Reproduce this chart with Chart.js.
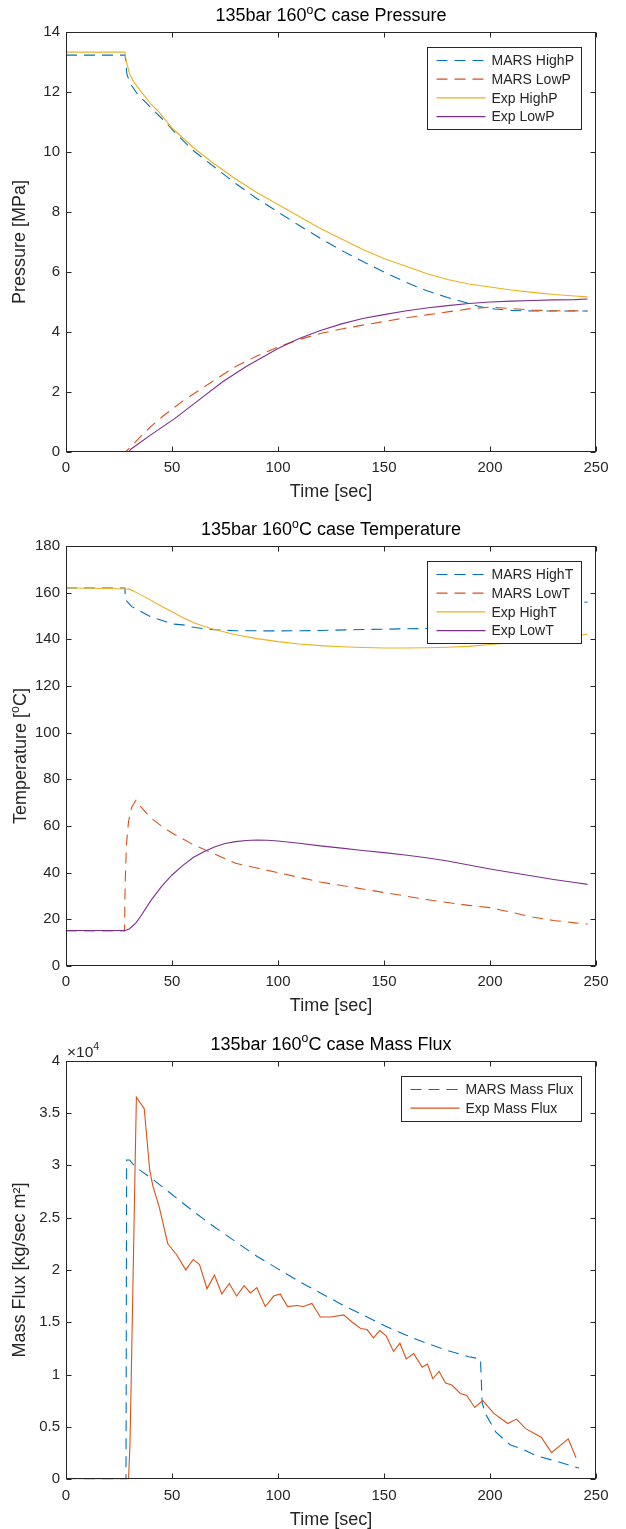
<!DOCTYPE html>
<html><head><meta charset="utf-8">
<script src="https://cdn.jsdelivr.net/npm/chart.js@4.4.1/dist/chart.umd.min.js"></script>
<style>
html,body{margin:0;padding:0;background:#fff;width:626px;height:1529px;overflow:hidden;position:relative;}
canvas{position:absolute;left:0;}
</style></head><body>
<canvas id="c1" width="626" height="512" style="top:0px"></canvas>
<canvas id="c2" width="626" height="512" style="top:514px"></canvas>
<canvas id="c3" width="626" height="501" style="top:1028px"></canvas>
<script>
// ---------------- DATA ----------------
const timeTicks = [0, 50, 100, 150, 200, 250];

// Pressure [MPa]
const tMarsHighP = [0, 27.9, 28.7, 30.3, 34, 38, 42, 47.6, 50, 60, 70, 80, 90, 100, 110, 120, 130, 140, 150, 160, 170, 180, 190, 195, 200, 210, 220, 230, 240, 246];
const marsHighP  = [13.23, 13.23, 12.6, 12.28, 11.9, 11.63, 11.34, 10.95, 10.75, 10.05, 9.5, 8.95, 8.45, 8.0, 7.55, 7.12, 6.72, 6.35, 6.0, 5.67, 5.38, 5.15, 4.95, 4.85, 4.78, 4.72, 4.7, 4.7, 4.7, 4.7];
const tMarsLowP  = [0, 28, 30.7, 36.6, 41.3, 45.8, 55.5, 68, 80, 90, 100, 110, 120, 130, 140, 150, 160, 170, 180, 190, 200, 210, 220, 230, 246];
const marsLowP   = [0, 0, 0.18, 0.62, 0.93, 1.2, 1.72, 2.3, 2.85, 3.2, 3.5, 3.75, 3.95, 4.1, 4.23, 4.35, 4.47, 4.57, 4.67, 4.77, 4.83, 4.78, 4.73, 4.71, 4.7];
const tExpHighP  = [0, 27.8, 28.5, 30, 32, 36, 40, 43, 50, 60, 70, 80, 90, 100, 110, 120, 130, 140, 150, 160, 170, 180, 190, 200, 210, 220, 230, 240, 246];
const expHighP   = [13.33, 13.33, 13.0, 12.6, 12.33, 11.96, 11.6, 11.4, 10.8, 10.15, 9.6, 9.1, 8.65, 8.25, 7.85, 7.45, 7.1, 6.75, 6.45, 6.2, 5.95, 5.75, 5.6, 5.5, 5.4, 5.32, 5.25, 5.2, 5.17];
const tExpLowP   = [0, 29.5, 30.7, 40, 51.4, 62.6, 73.9, 85, 100, 110, 120, 130, 140, 150, 160, 170, 180, 190, 200, 210, 220, 230, 240, 246];
const expLowP    = [0, 0, 0.1, 0.57, 1.12, 1.73, 2.34, 2.85, 3.45, 3.78, 4.05, 4.27, 4.45, 4.58, 4.7, 4.8, 4.88, 4.95, 5.0, 5.03, 5.05, 5.07, 5.08, 5.1];

// Temperature [oC]
const tMarsHighT = [0, 27.8, 28, 31, 36.4, 40.3, 45.8, 49.7, 55.2, 59.2, 65, 70, 80, 100, 120, 140, 160, 180, 190, 200, 210, 220, 230, 240, 246];
const marsHighT  = [162, 162, 157, 154, 151.4, 149.5, 148, 146.6, 146.2, 145.3, 144.6, 144.1, 143.7, 143.6, 143.8, 144.2, 144.5, 144.8, 145, 146, 148, 150.5, 153, 155.5, 156];
const tMarsLowT  = [0, 27.6, 27.9, 28.5, 29.5, 31, 33, 35, 40, 45, 50, 60, 70, 80, 90, 100, 110, 120, 130, 140, 150, 160, 170, 180, 190, 200, 210, 220, 230, 240, 246];
const marsLowT   = [15, 15, 35, 52, 62, 68, 71, 68.5, 63.5, 60, 57, 52, 48, 44, 42, 40, 38, 36, 34.5, 33, 31.5, 30, 28.5, 27.2, 26, 25, 23, 21, 19.5, 18.5, 18];
const tExpHighT  = [0, 20, 28, 30, 34, 40, 45, 50, 55, 60, 65, 70, 80, 90, 100, 110, 120, 130, 140, 150, 160, 170, 180, 190, 200, 210, 220, 230, 240, 246];
const expHighT   = [162, 161.8, 161.6, 161.5, 159.7, 156.8, 154.2, 151.8, 149.4, 147.2, 145.6, 144.2, 142, 140.3, 139, 138, 137.3, 136.8, 136.5, 136.3, 136.3, 136.4, 136.6, 137, 137.8, 138.6, 139.5, 140.4, 141.4, 142.2];
const tExpLowT   = [0, 28, 30, 33, 35, 40, 45, 50, 55, 60, 65, 70, 75, 80, 85, 90, 95, 100, 110, 120, 130, 140, 150, 160, 170, 180, 190, 200, 210, 220, 230, 240, 246];
const expLowT    = [15.2, 15.2, 16, 18.5, 21, 28, 34, 39, 43, 46.5, 49, 51, 52.5, 53.3, 53.8, 54, 53.9, 53.6, 52.6, 51.5, 50.5, 49.5, 48.6, 47.6, 46.4, 45, 43.3, 41.6, 40.1, 38.6, 37.1, 35.8, 35];

// Mass flux [kg/sec m2]
const tMarsFlux = [0, 28.3, 28.6, 30, 32, 35, 40, 45, 50, 60, 70, 80, 90, 100, 110, 120, 130, 140, 150, 160, 170, 180, 190, 195.5, 196.3, 198, 202.8, 209.4, 215, 222.5, 231.9, 241.2, 242];
const marsFlux  = [0, 0, 30500, 30500, 30000, 29500, 28800, 28000, 27200, 25600, 24100, 22700, 21300, 20100, 18900, 17800, 16700, 15700, 14700, 13800, 13000, 12300, 11700, 11500, 7300, 6200, 4500, 3300, 2900, 2200, 1700, 1100, 1100];
const tExpFlux  = [5.5, 29.5, 30.2, 30.8, 32.6, 33.2, 36.9, 39.5, 41, 44, 48, 52, 56.5, 60, 63, 66.5, 70, 73.5, 77, 80.5, 84, 87, 90, 94, 98, 101, 104.5, 109, 112, 116, 120, 125, 131, 135, 139, 142, 145, 148, 151, 154.5, 157.5, 160.5, 164, 168, 170.5, 173, 176, 179, 182, 186, 189, 192.8, 196.6, 201.8, 208.4, 212.5, 216.8, 224.3, 229, 236.9, 240.6];
const expFlux   = [0, 0, 3500, 10000, 30000, 36500, 35400, 29500, 28000, 26000, 22500, 21500, 20000, 21000, 20500, 18200, 19500, 17700, 18700, 17500, 18500, 17800, 18300, 16500, 17500, 17700, 16500, 16600, 16500, 16800, 15500, 15500, 15700, 15000, 14400, 14300, 13500, 14200, 13700, 12200, 13000, 11500, 12000, 10700, 11000, 9600, 10300, 9200, 9000, 8200, 8000, 6860, 7520, 6300, 5330, 5750, 4840, 4000, 2550, 3860, 2060];

// ---------------- STYLE ----------------
const FONT = '"Liberation Sans", Arial, Helvetica, sans-serif';
const AXC = '#262626';
const C_BLUE = '#0072BD', C_ORANGE = '#D95319', C_YELLOW = '#EDB120', C_PURPLE = '#7E2F8E';
const DASH = [11, 7];

function pts(t, v){ return t.map((x, i) => ({x: x, y: v[i]})); }

function drawRich(ctx, parts, x, y, size, color, rotate, align){
  ctx.save();
  ctx.translate(x, y);
  if (rotate) ctx.rotate(-Math.PI / 2);
  ctx.fillStyle = color;
  ctx.textBaseline = 'alphabetic';
  ctx.textAlign = 'left';
  let total = 0;
  const widths = parts.map(p => {
    ctx.font = (p.sup ? size * 0.68 : size) + 'px ' + FONT;
    const w = ctx.measureText(p.t).width; total += w; return w;
  });
  let cx = align === 'left' ? 0 : -total / 2;
  parts.forEach((p, i) => {
    ctx.font = (p.sup ? size * 0.68 : size) + 'px ' + FONT;
    ctx.fillText(p.t, cx, p.sup ? -size * 0.08 : size * 0.36);
    cx += widths[i];
  });
  ctx.restore();
}

const matlabPlugin = {
  id: 'matlab',
  afterDraw(chart, args, o) {
    const {ctx, chartArea: a, scales} = chart;
    ctx.save();
    const L = Math.round(a.left) + 0.5, R = Math.round(a.right) - 0.5, T = Math.round(a.top) + 0.5, B = Math.round(a.bottom) - 0.5;
    ctx.strokeStyle = AXC; ctx.lineWidth = 1; ctx.setLineDash([]);
    const tl = 5;
    ctx.beginPath();
    scales.x.ticks.forEach(tk => {
      const px = Math.round(scales.x.getPixelForValue(tk.value)) + 0.5;
      ctx.moveTo(px, B); ctx.lineTo(px, B - tl); ctx.moveTo(px, T); ctx.lineTo(px, T + tl);
    });
    scales.y.ticks.forEach(tk => {
      const py = Math.round(scales.y.getPixelForValue(tk.value)) + 0.5;
      ctx.moveTo(L, py); ctx.lineTo(L + tl, py); ctx.moveTo(R, py); ctx.lineTo(R - tl, py);
    });
    ctx.stroke();
    ctx.strokeRect(L, T, R - L, B - T);

    // title
    drawRich(ctx, o.title, (a.left + a.right) / 2, a.top - 17, 18, '#000');
    // y title (rich)
    if (o.yTitle) drawRich(ctx, o.yTitle, 20, (a.top + a.bottom) / 2, 18, AXC, true);
    // exponent label
    if (o.exponent) {
      drawRich(ctx, [{t: '\u00d710'}, {t: o.exponent, sup: true}], a.left + 1, a.top - 9, 15.5, AXC, false, 'left');
    }
    // legend
    const ds = chart.data.datasets;
    ctx.font = '14px ' + FONT;
    let tw = 0; ds.forEach(d => { tw = Math.max(tw, ctx.measureText(d.label).width); });
    const padL = 9, lineLen = 49, gap = 6, padR = 8, rowH = 18.7, padV = 13;
    const w = padL + lineLen + gap + tw + padR;
    const h = padV * 2 + (ds.length - 1) * rowH;
    const bx = Math.round(a.right - 15 - w) + 0.5, by = Math.round(a.top + 15) + 0.5;
    ctx.fillStyle = '#fff';
    ctx.fillRect(bx, by, w, h);
    ctx.strokeStyle = AXC; ctx.lineWidth = 1;
    ctx.strokeRect(bx, by, Math.round(w), Math.round(h));
    ds.forEach((d, i) => {
      const yy = by + padV + i * rowH;
      ctx.save();
      ctx.strokeStyle = d.borderColor; ctx.lineWidth = 1.2;
      ctx.setLineDash(d.borderDash || []);
      ctx.beginPath(); ctx.moveTo(bx + padL, yy); ctx.lineTo(bx + padL + lineLen, yy); ctx.stroke();
      ctx.restore();
      ctx.fillStyle = AXC; ctx.textBaseline = 'middle'; ctx.textAlign = 'left';
      ctx.font = '14px ' + FONT;
      ctx.fillText(d.label, bx + padL + lineLen + gap, yy + 1);
    });
    ctx.restore();
  }
};

function ds(label, t, v, color, dashed, order){
  return {label, data: pts(t, v), borderColor: color, backgroundColor: color, borderWidth: 1.1,
          borderDash: dashed ? DASH : [], pointRadius: 0, tension: 0, fill: false, order};
}

function makeChart(id, datasets, o){
  const canvas = document.getElementById(id);
  const H = canvas.height;
  return new Chart(canvas, {
    type: 'line',
    data: {datasets},
    plugins: [matlabPlugin],
    options: {
      responsive: false, animation: false, devicePixelRatio: 1,
      layout: {padding: {top: o.padTop, right: 30, bottom: 0, left: 0}},
      plugins: {legend: {display: false}, title: {display: false}, tooltip: {enabled: false}, matlab: o},
      scales: {
        x: {
          type: 'linear', min: 0, max: 250,
          afterBuildTicks: s => { s.ticks = timeTicks.map(v => ({value: v})); },
          ticks: {color: AXC, font: {family: FONT, size: 15}, padding: o.xTickPad, maxRotation: 0, autoSkip: false},
          grid: {display: false, drawTicks: false}, border: {display: false},
          title: {display: true, text: 'Time [sec]', color: AXC, font: {family: FONT, size: 18, lineHeight: o.xTitleLH}, padding: {top: 0, bottom: o.xTitlePad}},
          afterFit: s => { s.height = H - o.areaBottom; }
        },
        y: {
          type: 'linear', min: o.yMin, max: o.yMax,
          afterBuildTicks: s => { s.ticks = o.yTicks.map(v => ({value: v})); },
          ticks: {color: AXC, font: {family: FONT, size: 15}, padding: 6, autoSkip: false,
                  callback: o.yFmt || (v => String(v))},
          grid: {display: false, drawTicks: false}, border: {display: false},
          title: {display: !!o.yText, text: o.yText || '', color: AXC, font: {family: FONT, size: 18, lineHeight: 1.2}, padding: {top: 9, bottom: 0}},
          afterFit: s => { s.width = 66; }
        }
      }
    }
  });
}

const pressTicks = [0, 2, 4, 6, 8, 10, 12, 14];
const tempTicks = [0, 20, 40, 60, 80, 100, 120, 140, 160, 180];
const fluxTicks = [0, 5000, 10000, 15000, 20000, 25000, 30000, 35000, 40000];

makeChart('c1', [
  ds('MARS HighP', tMarsHighP, marsHighP, C_BLUE, true, 4),
  ds('MARS LowP', tMarsLowP, marsLowP, C_ORANGE, true, 3),
  ds('Exp HighP', tExpHighP, expHighP, C_YELLOW, false, 2),
  ds('Exp LowP', tExpLowP, expLowP, C_PURPLE, false, 1)
], {padTop: 32, areaBottom: 452, xTickPad: 6.5, xTitlePad: 9.5, xTitleLH: 1.2,
    yMin: 0, yMax: 14, yTicks: pressTicks, yText: 'Pressure [MPa]',
    title: [{t: '135bar 160'}, {t: 'o', sup: true}, {t: 'C case Pressure'}]});

makeChart('c2', [
  ds('MARS HighT', tMarsHighT, marsHighT, C_BLUE, true, 4),
  ds('MARS LowT', tMarsLowT, marsLowT, C_ORANGE, true, 3),
  ds('Exp HighT', tExpHighT, expHighT, C_YELLOW, false, 2),
  ds('Exp LowT', tExpLowT, expLowT, C_PURPLE, false, 1)
], {padTop: 32, areaBottom: 452, xTickPad: 6.5, xTitlePad: 9.5, xTitleLH: 1.2,
    yMin: 0, yMax: 180, yTicks: tempTicks,
    yTitle: [{t: 'Temperature ['}, {t: 'o', sup: true}, {t: 'C]'}],
    title: [{t: '135bar 160'}, {t: 'o', sup: true}, {t: 'C case Temperature'}]});

makeChart('c3', [
  ds('MARS Mass Flux', tMarsFlux, marsFlux, C_BLUE, true, 2),
  ds('Exp Mass Flux', tExpFlux, expFlux, C_ORANGE, false, 1)
], {padTop: 32.5, areaBottom: 451.3, xTickPad: 8, xTitlePad: 0, xTitleLH: 1,
    yMin: 0, yMax: 40000, yTicks: fluxTicks, yText: 'Mass Flux [kg/sec m\u00b2]',
    yFmt: v => String(v / 10000), exponent: '4',
    title: [{t: '135bar 160'}, {t: 'o', sup: true}, {t: 'C case Mass Flux'}]});
</script>
</body></html>
